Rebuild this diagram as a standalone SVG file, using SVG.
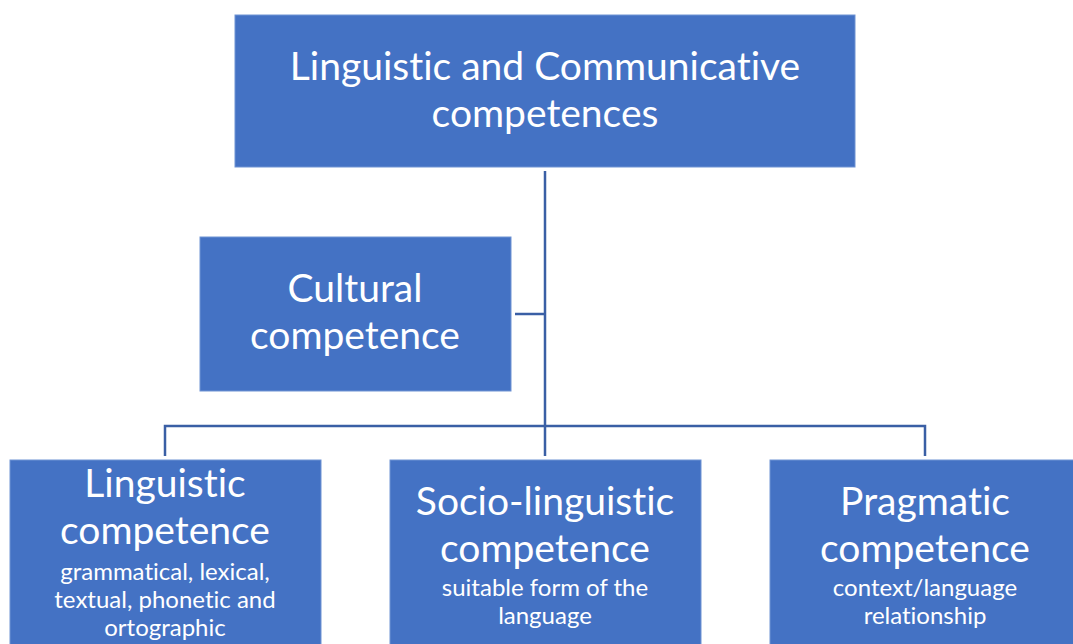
<svg xmlns="http://www.w3.org/2000/svg" width="1073" height="644" viewBox="0 0 1073 644">
  <style>
    .box { fill: #4472C4; stroke: #6F93D3; stroke-width: 1; }
    text { font-family: Lato, "Open Sans", sans-serif; fill: #ffffff; text-anchor: middle; font-variant-ligatures: none; }
    .big { font-size: 39px; }
    .small { font-size: 24px; }
    .link { fill: none; stroke: #3A5FA5; stroke-width: 2.5; }
  </style>
  <rect width="1073" height="644" fill="#ffffff"/>

  <!-- connectors -->
  <g id="connectors">
    <path class="link" d="M545 171 V456"/>
    <path class="link" d="M515 314 H545"/>
    <path class="link" d="M165 456 V426 H925 V456"/>
  </g>

  <g id="root">
    <rect class="box" x="235" y="15" width="620" height="152"/>
    <text class="big" x="545" y="80">Linguistic and Communicative</text>
    <text class="big" x="545" y="127">competences</text>
  </g>

  <g id="cultural">
    <rect class="box" x="200" y="237" width="311" height="154"/>
    <text class="big" x="355" y="302">Cultural</text>
    <text class="big" x="355" y="349">competence</text>
  </g>

  <g id="linguistic">
    <rect class="box" x="10" y="460" width="311" height="190"/>
    <text class="big" x="165" y="497">Linguistic</text>
    <text class="big" x="165" y="544">competence</text>
    <text class="small" x="165" y="580">grammatical, lexical,</text>
    <text class="small" x="165" y="608">textual, phonetic and</text>
    <text class="small" x="165" y="636">ortographic</text>
  </g>

  <g id="sociolinguistic">
    <rect class="box" x="390" y="460" width="311" height="190"/>
    <text class="big" x="545" y="515">Socio-linguistic</text>
    <text class="big" x="545" y="562">competence</text>
    <text class="small" x="545" y="596">suitable form of the</text>
    <text class="small" x="545" y="624">language</text>
  </g>

  <g id="pragmatic">
    <rect class="box" x="770" y="460" width="311" height="190"/>
    <text class="big" x="925" y="515">Pragmatic</text>
    <text class="big" x="925" y="562">competence</text>
    <text class="small" x="925" y="596">context/language</text>
    <text class="small" x="925" y="624">relationship</text>
  </g>
</svg>
